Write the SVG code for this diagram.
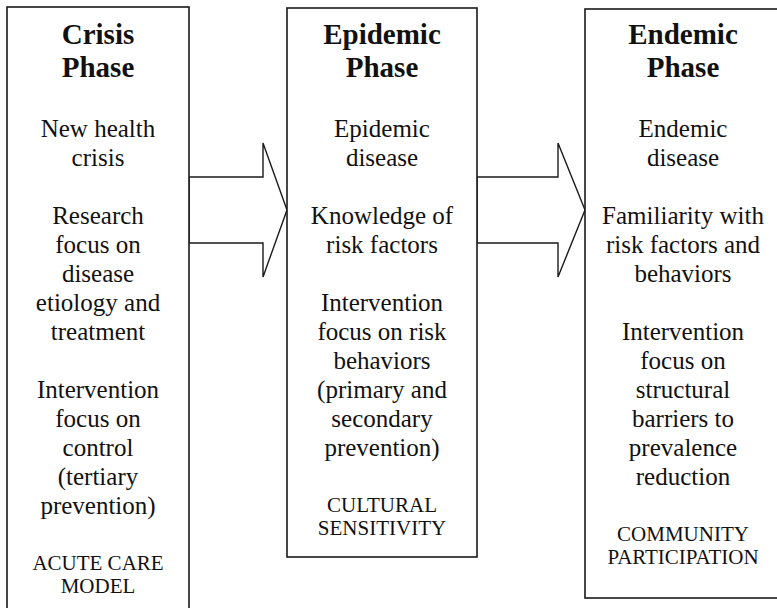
<svg xmlns="http://www.w3.org/2000/svg" width="777" height="608" viewBox="0 0 777 608">
<style>
.box{fill:#fff;stroke:#1a1a1a;stroke-width:1.6}
.arrow{fill:#fff;stroke:#1a1a1a;stroke-width:1.4;stroke-linejoin:miter}
text{font-family:"Liberation Serif","Times New Roman",serif;fill:#111;text-anchor:middle}
.t{font-size:29px;font-weight:bold}
.b{font-size:25px}
.c{font-size:21px}
</style>
<g id="connectors">
<polygon class="arrow" points="189,177 263,177 263,143 287,210 263,277 263,243 189,243"/>
<polygon class="arrow" points="477,177 558,177 558,143 585,210 558,277 558,243 477,243"/>
</g>
<g id="crisis">
<rect class="box" x="7" y="7" width="182" height="610"/>
<text class="t" x="98" y="44">Crisis</text>
<text class="t" x="98" y="77">Phase</text>
<text class="b" x="98" y="137">New health</text>
<text class="b" x="98" y="166">crisis</text>
<text class="b" x="98" y="224">Research</text>
<text class="b" x="98" y="253">focus on</text>
<text class="b" x="98" y="282">disease</text>
<text class="b" x="98" y="311">etiology and</text>
<text class="b" x="98" y="340">treatment</text>
<text class="b" x="98" y="398">Intervention</text>
<text class="b" x="98" y="427">focus on</text>
<text class="b" x="98" y="456">control</text>
<text class="b" x="98" y="485">(tertiary</text>
<text class="b" x="98" y="514">prevention)</text>
<text class="c" x="98" y="570">ACUTE CARE</text>
<text class="c" x="98" y="593">MODEL</text>
</g>
<g id="epidemic">
<rect class="box" x="287" y="8" width="190" height="549"/>
<text class="t" x="382" y="44">Epidemic</text>
<text class="t" x="382" y="77">Phase</text>
<text class="b" x="382" y="137">Epidemic</text>
<text class="b" x="382" y="166">disease</text>
<text class="b" x="382" y="224">Knowledge of</text>
<text class="b" x="382" y="253">risk factors</text>
<text class="b" x="382" y="311">Intervention</text>
<text class="b" x="382" y="340">focus on risk</text>
<text class="b" x="382" y="369">behaviors</text>
<text class="b" x="382" y="398">(primary and</text>
<text class="b" x="382" y="427">secondary</text>
<text class="b" x="382" y="456">prevention)</text>
<text class="c" x="382" y="512">CULTURAL</text>
<text class="c" x="382" y="535">SENSITIVITY</text>
</g>
<g id="endemic">
<rect class="box" x="585" y="9" width="200" height="589"/>
<text class="t" x="683" y="44">Endemic</text>
<text class="t" x="683" y="77">Phase</text>
<text class="b" x="683" y="137">Endemic</text>
<text class="b" x="683" y="166">disease</text>
<text class="b" x="683" y="224">Familiarity with</text>
<text class="b" x="683" y="253">risk factors and</text>
<text class="b" x="683" y="282">behaviors</text>
<text class="b" x="683" y="340">Intervention</text>
<text class="b" x="683" y="369">focus on</text>
<text class="b" x="683" y="398">structural</text>
<text class="b" x="683" y="427">barriers to</text>
<text class="b" x="683" y="456">prevalence</text>
<text class="b" x="683" y="485">reduction</text>
<text class="c" x="683" y="541">COMMUNITY</text>
<text class="c" x="683" y="564">PARTICIPATION</text>
</g>
</svg>
